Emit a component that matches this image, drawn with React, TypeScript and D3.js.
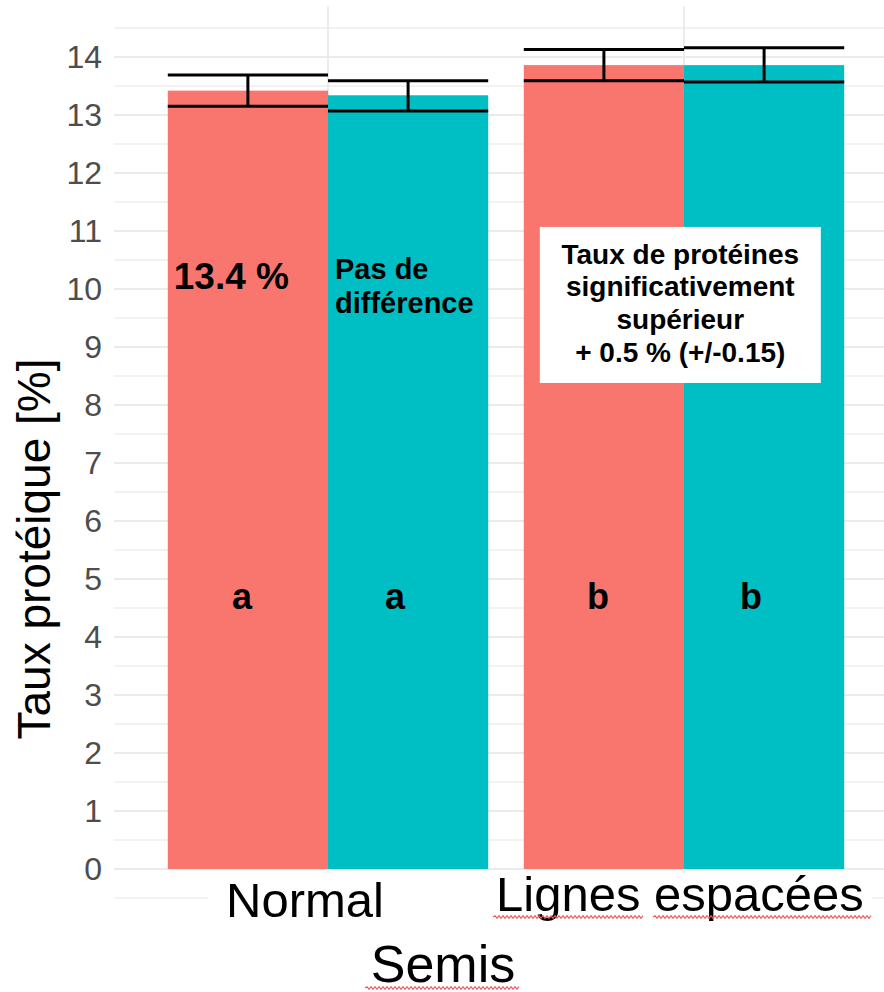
import * as d3 from "d3";

// data
const groups = ["Normal", "Lignes espacées"];
const fills = ["f1", "f2"];
const fillColors = ["#F8766D", "#00BFC4"];
const meanNormal = [13.42, 13.34];
const meanLignes = [13.86, 13.86];
const upperNormal = [13.69, 13.59];
const upperLignes = [14.13, 14.16];
const lowerNormal = [13.15, 13.07];
const lowerLignes = [13.59, 13.57];
const lettersNormal = ["a", "a"];
const lettersLignes = ["b", "b"];
const yTicks = d3.range(0, 15);
const yMinor = d3.range(-0.5, 15, 1);
const boxLines = [
  "Taux de protéines",
  "significativement",
  "supérieur",
  "+ 0.5 % (+/-0.15)",
];

const W = 884;
const H = 992;
const font = "'Liberation Sans', Arial, sans-serif";

const rows = groups.flatMap((g, gi) =>
  fills.map((f, fi) => ({
    group: g,
    fill: f,
    color: fillColors[fi],
    mean: gi === 0 ? meanNormal[fi] : meanLignes[fi],
    hi: gi === 0 ? upperNormal[fi] : upperLignes[fi],
    lo: gi === 0 ? lowerNormal[fi] : lowerLignes[fi],
    letter: gi === 0 ? lettersNormal[fi] : lettersLignes[fi],
  }))
);

// wavy spell-check underline
function wavy(x0: number, x1: number, y: number) {
  const p = d3.path();
  p.moveTo(x0, y);
  let up = true;
  for (let x = x0 + 2; x <= x1; x += 2) {
    p.lineTo(x, y + (up ? -1.3 : 1.3));
    up = !up;
  }
  return p.toString();
}

export default function App() {
  const y = d3.scaleLinear().domain([0, 14]).range([869, 57]);
  const x = d3
    .scaleBand<string>()
    .domain(groups)
    .range([150, 862])
    .paddingInner(0.1)
    .paddingOuter(0.05);
  const xf = d3.scaleBand<string>().domain(fills).range([0, x.bandwidth()]);

  const panelLeft = 114;
  const panelRight = 898;
  const panelTop = y(14.87);
  const panelBottom = y(-0.71);

  const barX = (r: (typeof rows)[number]) => (x(r.group) ?? 0) + (xf(r.fill) ?? 0);
  const bw = xf.bandwidth();
  const lig = x("Lignes espacées") ?? 0;
  const nor = x("Normal") ?? 0;

  return (
    <svg
      width={W}
      height={H}
      style={{ position: "absolute", left: 0, top: 0, background: "#fff" }}
      fontFamily={font}
    >
      {/* grid */}
      {yMinor.map((v) => (
        <line
          key={"mi" + v}
          x1={panelLeft}
          x2={panelRight}
          y1={y(v)}
          y2={y(v)}
          stroke="#EEEEEE"
          strokeWidth={1.3}
        />
      ))}
      {yTicks.map((v) => (
        <line
          key={"ma" + v}
          x1={panelLeft}
          x2={panelRight}
          y1={y(v)}
          y2={y(v)}
          stroke="#EBEBEB"
          strokeWidth={2}
        />
      ))}
      {groups.map((g) => (
        <line
          key={"v" + g}
          x1={(x(g) ?? 0) + x.bandwidth() / 2}
          x2={(x(g) ?? 0) + x.bandwidth() / 2}
          y1={panelTop}
          y2={panelBottom}
          stroke="#EBEBEB"
          strokeWidth={2}
        />
      ))}

      {/* bars */}
      {rows.map((r) => (
        <rect
          key={"b" + r.group + r.fill}
          x={barX(r)}
          y={y(r.mean)}
          width={bw}
          height={y(0) - y(r.mean)}
          fill={r.color}
        />
      ))}

      {/* error bars */}
      {rows.map((r) => {
        const cx = barX(r) + bw / 2;
        return (
          <g key={"e" + r.group + r.fill} stroke="#000" strokeWidth={3}>
            <line x1={barX(r)} x2={barX(r) + bw} y1={y(r.hi)} y2={y(r.hi)} />
            <line x1={barX(r)} x2={barX(r) + bw} y1={y(r.lo)} y2={y(r.lo)} />
            <line x1={cx} x2={cx} y1={y(r.hi)} y2={y(r.lo)} />
          </g>
        );
      })}

      {/* y axis */}
      {yTicks.map((v) => (
        <text
          key={"t" + v}
          x={102}
          y={y(v)}
          textAnchor="end"
          dominantBaseline="central"
          fontSize={32}
          fill="#4D4D4D"
        >
          {v}
        </text>
      ))}
      <text
        transform={`translate(50,549) rotate(-90)`}
        textAnchor="middle"
        fontSize={46}
        fill="#000"
      >
        Taux protéique [%]
      </text>

      {/* letters */}
      {rows.map((r, i) => (
        <text
          key={"l" + r.group + r.fill}
          x={barX(r) + bw / 2 + (i % 2 === 0 ? -6 : -13)}
          y={y(4.48)}
          textAnchor="middle"
          fontSize={36}
          fontWeight="bold"
        >
          {r.letter}
        </text>
      ))}

      {/* annotations */}
      <text x={nor + 6} y={y(10.0)} fontSize={37} fontWeight="bold">
        13.4 %
      </text>
      <text x={nor + (xf("f2") ?? 0) + 7} fontSize={29} fontWeight="bold">
        <tspan x={nor + (xf("f2") ?? 0) + 7} y={y(10.17)}>
          Pas de
        </tspan>
        <tspan x={nor + (xf("f2") ?? 0) + 7} y={y(9.59)}>
          différence
        </tspan>
      </text>
      <rect x={lig + 16} y={y(11.07)} width={281} height={y(8.38) - y(11.07)} fill="#fff" />
      {boxLines.map((t, i) => (
        <text
          key={"bl" + i}
          x={lig + 16 + 140.5}
          y={y([10.43, 9.88, 9.31, 8.74][i])}
          textAnchor="middle"
          fontSize={28}
          fontWeight="bold"
        >
          {t}
        </text>
      ))}

      {/* x labels (text boxes over the plot) */}
      <rect x={208} y={873} width={664} height={H - 873} fill="#fff" />
      <text
        x={nor + x.bandwidth() / 2 - 23}
        y={917}
        textAnchor="middle"
        fontSize={49}
      >
        Normal
      </text>
      <text
        x={lig + x.bandwidth() / 2 - 4}
        y={911}
        textAnchor="middle"
        fontSize={49}
      >
        Lignes espacées
      </text>
      <path d={wavy(493, 643, 917)} fill="none" stroke="#F05A5A" strokeWidth={1.2} />
      <path d={wavy(653, 872, 917)} fill="none" stroke="#F05A5A" strokeWidth={1.2} />
      <text x={443} y={982} textAnchor="middle" fontSize={52}>
        Semis
      </text>
      <path d={wavy(365, 520, 988)} fill="none" stroke="#F05A5A" strokeWidth={1.2} />
    </svg>
  );
}
